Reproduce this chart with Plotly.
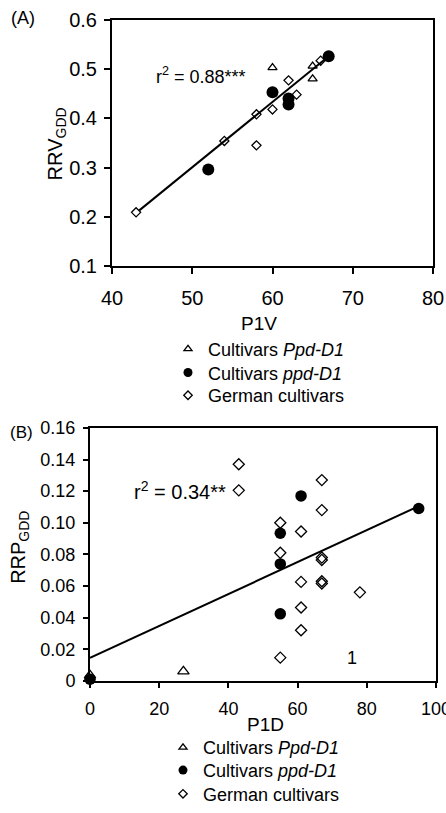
import plotly.graph_objects as go

W, H = 446, 813

# ---- Panel A data (P1V vs RRV_GDD)
a_tri_x = [60, 65, 65]
a_tri_y = [0.503, 0.480, 0.506]
a_dot_x = [52, 60, 62, 62, 67]
a_dot_y = [0.296, 0.453, 0.440, 0.428, 0.526]
a_dia_x = [43, 54, 58, 58, 60, 62, 63, 66]
a_dia_y = [0.209, 0.354, 0.408, 0.345, 0.418, 0.477, 0.448, 0.517]
a_fit_x = [43.4, 67]
a_fit_y = [0.213, 0.526]
a_xticks = [40, 50, 60, 70, 80]
a_yticks = [0.1, 0.2, 0.3, 0.4, 0.5, 0.6]
a_yticktext = ["0.1", "0.2", "0.3", "0.4", "0.5", "0.6"]

# ---- Panel B data (P1D vs RRP_GDD)
b_tri_x = [0, 27]
b_tri_y = [0.0035, 0.006]
b_dot_x = [0, 55, 55, 55, 61, 95]
b_dot_y = [0.001, 0.0424, 0.074, 0.0934, 0.117, 0.109]
b_dia_x = [43, 43, 67, 67, 55, 61, 55, 67, 67, 61, 67, 67, 78, 61, 61, 55]
b_dia_y = [0.137, 0.1205, 0.127, 0.108, 0.100, 0.0945, 0.081, 0.078, 0.0765,
           0.0626, 0.0616, 0.063, 0.056, 0.0464, 0.032, 0.0147]
b_fit_x = [0, 95]
b_fit_y = [0.0145, 0.1105]
b_xticks = [0, 20, 40, 60, 80, 100]
b_yticks = [0, 0.02, 0.04, 0.06, 0.08, 0.10, 0.12, 0.14, 0.16]
b_yticktext = ["0", "0.02", "0.04", "0.06", "0.08", "0.10", "0.12", "0.14", "0.16"]

names = ["Cultivars <i>Ppd-D1</i>", "Cultivars <i>ppd-D1</i>", "German cultivars"]

FONT = "Liberation Sans, Arial, sans-serif"


def px2x(p):
    return p / W


def py2y(p):
    return 1 - p / H


def tri(s):
    return dict(symbol="triangle-up-open", size=s, color="black", line=dict(width=1.3, color="black"))


def dot(s):
    return dict(symbol="circle", size=s, color="black")


def dia(s):
    return dict(symbol="diamond-open", size=s, color="black", line=dict(width=1.3, color="black"))


MK_A = (tri(8), dot(12), dia(7))
MK_B = (tri(10), dot(11.5), dia(8.5))
MK_L = (tri(7), dot(9), dia(6.5))

fig = go.Figure()


def add_panel(xa, ya, legs, mks, tx, ty, dx, dy, gx, gy, fx, fy):
    fig.add_trace(go.Scatter(x=fx, y=fy, mode="lines", line=dict(color="black", width=2),
                             xaxis=xa, yaxis=ya, showlegend=False, hoverinfo="skip"))
    for xs, ys, mk in zip((tx, dx, gx), (ty, dy, gy), mks):
        fig.add_trace(go.Scatter(x=xs, y=ys, mode="markers", marker=mk, showlegend=False,
                                 xaxis=xa, yaxis=ya, cliponaxis=False))
    # legend entries (one legend box per entry)
    for nm, mk, lg in zip(names, MK_L, legs):
        fig.add_trace(go.Scatter(x=[None], y=[None], mode="markers", marker=mk, name=nm,
                                 legend=lg, showlegend=True, xaxis=xa, yaxis=ya))


add_panel("x", "y", ["legend", "legend2", "legend3"], MK_A,
          a_tri_x, a_tri_y, a_dot_x, a_dot_y, a_dia_x, a_dia_y, a_fit_x, a_fit_y)
add_panel("x2", "y2", ["legend4", "legend5", "legend6"], MK_B,
          b_tri_x, b_tri_y, b_dot_x, b_dot_y, b_dia_x, b_dia_y, b_fit_x, b_fit_y)

axis_common = dict(showline=True, linecolor="black", linewidth=2, mirror=True,
                   ticks="outside", tickwidth=2, tickcolor="black", automargin=False,
                   ticklabeloverflow="allow", showgrid=False, zeroline=False)


def leg(xp, yp):
    return dict(x=px2x(xp), y=py2y(yp), xanchor="left", yanchor="middle",
                font=dict(size=18), bgcolor="rgba(0,0,0,0)", borderwidth=0, itemwidth=30)


def note(text, xp, yp, size, angle=0):
    return dict(text=text, x=px2x(xp), y=py2y(yp), xref="paper", yref="paper",
                xanchor="center", yanchor="middle", textangle=angle,
                showarrow=False, font=dict(size=size))


def dnote(text, x, y, xr, yr, size):
    return dict(text=text, x=x, y=y, xref=xr, yref=yr, xanchor="center", yanchor="middle",
                showarrow=False, font=dict(size=size))


fig.update_layout(
    template="none",
    width=W, height=H,
    margin=dict(l=0, r=0, t=0, b=0),
    paper_bgcolor="white", plot_bgcolor="white",
    font=dict(family=FONT, color="black", size=18),
    xaxis=dict(domain=[px2x(112), px2x(433)], range=[40, 80], anchor="y",
               tickvals=a_xticks, tickfont=dict(size=20), ticklen=6, ticklabelstandoff=7,
               **axis_common),
    yaxis=dict(domain=[py2y(269), py2y(20)], range=[0.1, 0.6], anchor="x",
               tickvals=a_yticks, ticktext=a_yticktext, tickfont=dict(size=20), ticklen=6,
               ticklabelstandoff=3, **axis_common),
    xaxis2=dict(domain=[px2x(90), px2x(436)], range=[0, 100], anchor="y2",
                tickvals=b_xticks, tickfont=dict(size=18), ticklen=5, ticklabelstandoff=6,
                **axis_common),
    yaxis2=dict(domain=[py2y(688.5), py2y(432.7)], range=[0, 0.16], anchor="x2",
                tickvals=b_yticks, ticktext=b_yticktext, tickfont=dict(size=18), ticklen=5,
                ticklabelstandoff=4, **axis_common),
    legend=leg(168, 353), legend2=leg(168, 377), legend3=leg(168, 400),
    legend4=leg(163, 756), legend5=leg(163, 779), legend6=leg(163, 803),
    annotations=[
        note("(A)", 23, 18, 18),
        note("(B)", 21, 437, 17),
        note("RRV<sub>GDD</sub>", 56, 146, 20, -90),
        note("RRP<sub>GDD</sub>", 20, 554, 20, -90),
        note("P1V", 259, 327, 19),
        note("P1D", 265, 733, 19),
        dnote("r<sup>2</sup> = 0.88***", 51.1, 0.486, "x", "y", 18),
        dnote("r<sup>2</sup> = 0.34**", 26, 0.1203, "x2", "y2", 20),
        dnote("1", 75.7, 0.0147, "x2", "y2", 18),
    ],
)

fig.write_html("out.html")
